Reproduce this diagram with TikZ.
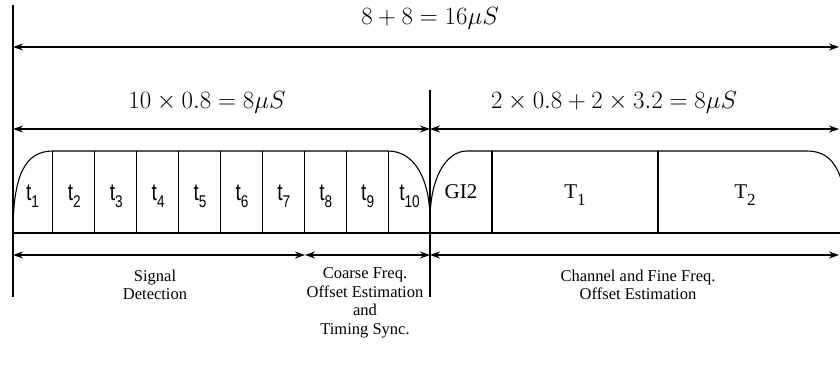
\documentclass[tikz,border=0pt]{standalone}
\usepackage[no-math]{fontspec}
\setmainfont{Liberation Serif}
\newfontfamily\slotfont[FakeStretch=0.8]{Liberation Sans}
\usetikzlibrary{arrows.meta}

\newcommand{\slotsub}[1]{\raisebox{-0.3em}{\fontsize{17}{17}\selectfont #1}}

\begin{document}
\begin{tikzpicture}[x=1pt, y=-1pt, line width=1.1pt, line join=round,
  dimline/.style={{Stealth[length=10pt,width=7pt]}-{Stealth[length=10pt,width=7pt]}},
  mathlabel/.style={font=\fontsize{23}{23}\selectfont},
  slotlabel/.style={font=\slotfont\fontsize{24}{24}\selectfont},
  fieldlabel/.style={font=\fontsize{21}{21}\selectfont},
  tasklabel/.style={font=\fontsize{16.5}{18.5}\selectfont, align=center}]
\useasboundingbox (0,0) rectangle (840,369);
\coordinate (L0) at (13,47);
\coordinate (R0) at (839,47);
\coordinate (L1) at (13,129);
\coordinate (M1) at (430,129);
\coordinate (R1) at (839,129);
\coordinate (L2) at (13,255);
\coordinate (S2) at (305,255);
\coordinate (M2) at (430,255);
\coordinate (R2) at (839,255);
% boundary lines
\draw (13,5) -- (13,297);
\draw (430,90) -- (430,297);
% dimension arrows
\draw[dimline] (L0) -- (R0);
\draw[dimline] (L1) -- (M1);
\draw[dimline] (M1) -- (R1);
\draw[dimline] (L2) -- (S2);
\draw[dimline] (S2) -- (M2);
\draw[dimline] (M2) -- (R2);
% preamble envelope
\draw (13,233) .. controls (13,175) and (25,151) .. (53,151) -- (388,151)
  .. controls (415,151) and (430,180) .. (430,220);
\draw (430,220) .. controls (430,180) and (445,151) .. (467,151) -- (807,151)
  .. controls (835,151) and (847,175) .. (847,233);
\draw (13,233) -- (850,233);
\foreach \i in {1,...,9}
  \draw ({11+41.9*\i},151) -- ({11+41.9*\i},233);
\draw (492,151) -- (492,233);
\draw (658,151) -- (658,233);
% field labels
\foreach \i in {1,...,10}
  \node[slotlabel] (t\i) at ({11.5+41.9*(\i-0.5)},196) {t\slotsub{\i}};
\node[fieldlabel] (gi) at (461,192) {GI2};
\node[fieldlabel] (T1) at (575,195) {T\slotsub{1}};
\node[fieldlabel] (T2) at (745,195) {T\slotsub{2}};
% durations
\node[mathlabel] (total) at (430,18) {$8+8=16\mu S$};
\node[mathlabel] (short) at (207,102) {$10\times 0.8=8\mu S$};
\node[mathlabel] (long) at (614,102) {$2\times 0.8+2\times 3.2=8\mu S$};
% tasks
\node[tasklabel] (detect) at (155,285) {Signal\\Detection};
\node[tasklabel] (coarse) at (365,303) {Coarse Freq.\\Offset Estimation\\and\\Timing Sync.};
\node[tasklabel] (fine) at (638,285) {Channel and Fine Freq.\\Offset Estimation};
\end{tikzpicture}
\end{document}
